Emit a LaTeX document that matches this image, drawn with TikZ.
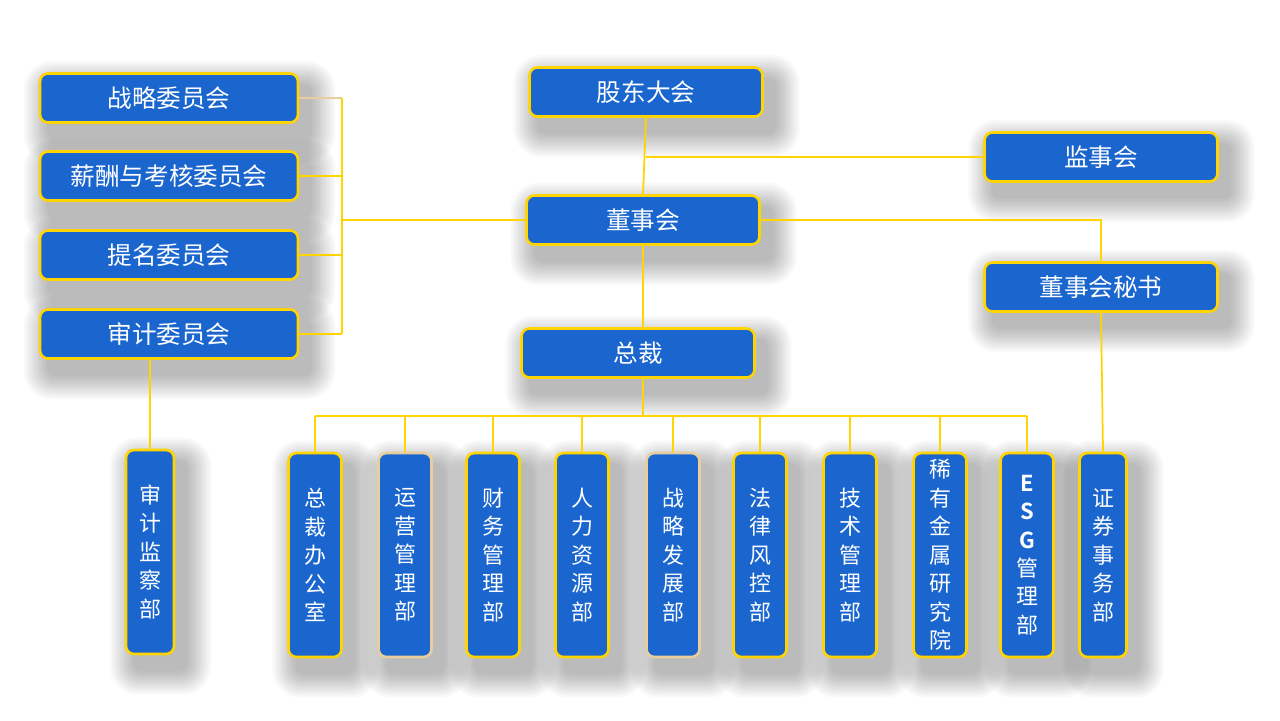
\documentclass[tikz,border=0pt]{standalone}
\usepackage{fontspec}
\setmainfont{Noto Sans CJK SC}[BoldFont={Noto Sans CJK SC Bold}]
\usetikzlibrary{backgrounds}
\definecolor{boxblue}{RGB}{26,102,206}
\definecolor{gold}{RGB}{255,212,0}
\definecolor{tan}{RGB}{232,206,158}

\begin{document}
\begin{tikzpicture}[x=0.02cm,y=-0.02cm,
  box/.style={draw=gold,line width=1.5pt,fill=boxblue,rounded corners=4.5pt,text=white},
  hbox/.style={box,minimum width=4.66cm,minimum height=0.98cm,inner sep=0pt,font=\fontsize{14}{16}\selectfont},
  cbox/.style={hbox,minimum width=5.16cm},
  vbox/.style={box,minimum width=1.06cm,minimum height=4.08cm,inner sep=1pt,align=center,font=\fontsize{12.5}{16.2}\selectfont},
  link/.style={draw=gold,line width=1pt},
  shade layer/.style={fill=black,opacity=0.024}]
\useasboundingbox (0,0) rectangle (1280,720);
% committees of the board
\node[cbox] (C1) at (169,98) {战略委员会};
\node[cbox] (C2) at (169,176) {薪酬与考核委员会};
\node[cbox] (C3) at (169,255) {提名委员会};
\node[cbox] (C4) at (169,334) {审计委员会};
% governance
\node[hbox] (GD) at (646,92) {股东大会};
\node[hbox] (DS) at (643,220) {董事会};
\node[hbox] (ZC) at (638,353) {总裁};
\node[hbox] (JS) at (1101,157) {监事会};
\node[hbox] (MS) at (1101,287) {董事会秘书};
% departments
\node[vbox,minimum width=0.96cm] (SJ) at (150,552) {审\\计\\监\\察\\部};
\foreach \n/\x/\c/\t in {D1/315/gold/{总\\裁\\办\\公\\室},D2/405/tan/{运\\营\\管\\理\\部},
    D3/493/gold/{财\\务\\管\\理\\部},D4/582/gold/{人\\力\\资\\源\\部},D5/673/tan/{战\\略\\发\\展\\部},
    D6/760/gold/{法\\律\\风\\控\\部},D7/850/gold/{技\\术\\管\\理\\部},
    D8/940/gold/{稀\\有\\金\\属\\研\\究\\院},D9/1027/gold/{\textbf{E}\\\textbf{S}\\\textbf{G}\\管\\理\\部}}
  \node[vbox,draw=\c] (\n) at (\x,555) {\t};
\node[vbox,minimum width=0.94cm] (ZQ) at (1103,555) {证\\券\\事\\务\\部};
% soft shadows behind the boxes
\begin{scope}[on background layer]
  \fill[white] (0,0) rectangle (1280,720);
  \foreach \n in {C1,C2,C3,C4,GD,DS,ZC,JS,MS,SJ,D1,D2,D3,D4,D5,D6,D7,D8,D9,ZQ}
    \foreach \k in {0,...,11}
      \fill[shade layer,rounded corners=4pt+(12-\k)*1pt]
        ([xshift=6pt-(12-\k)*1.2pt,yshift=-8pt-(12-\k)*1.2pt]\n.south west) rectangle
        ([xshift=6pt+(12-\k)*1.2pt,yshift=-8pt+(12-\k)*1.2pt]\n.north east);
\end{scope}
% connectors
\coordinate (BR) at (342,220);
\draw[link,draw=tan] (C1.east) -- (C1.east -| BR);
\draw[link] (C1.east -| BR) -- (C4.east -| BR);
\foreach \c in {C2,C3,C4}
  \draw[link] (\c.east) -- (\c.east -| BR);
\draw[link] (BR) -- (DS.west);
\draw[link] (SJ.north) -- (SJ.north |- C4.south);
\draw[link] (GD.south) -- (DS.north);
\draw[link] (JS.west) -- (JS.west -| GD.south);
\draw[link] (DS.east) -| (MS.north);
\draw[link] (MS.south) -- (ZQ.north);
\draw[link] (DS.south) -- (DS.south |- ZC.north);
\draw[link] (ZC.south -| DS.south) -- ++(0,37) coordinate (BUS);
\draw[link] (D1.north |- BUS) -- (D9.north |- BUS);
\foreach \n in {D1,D2,D3,D4,D5,D6,D7,D8,D9}
  \draw[link] (\n.north) -- (\n.north |- BUS);
\end{tikzpicture}
\end{document}
